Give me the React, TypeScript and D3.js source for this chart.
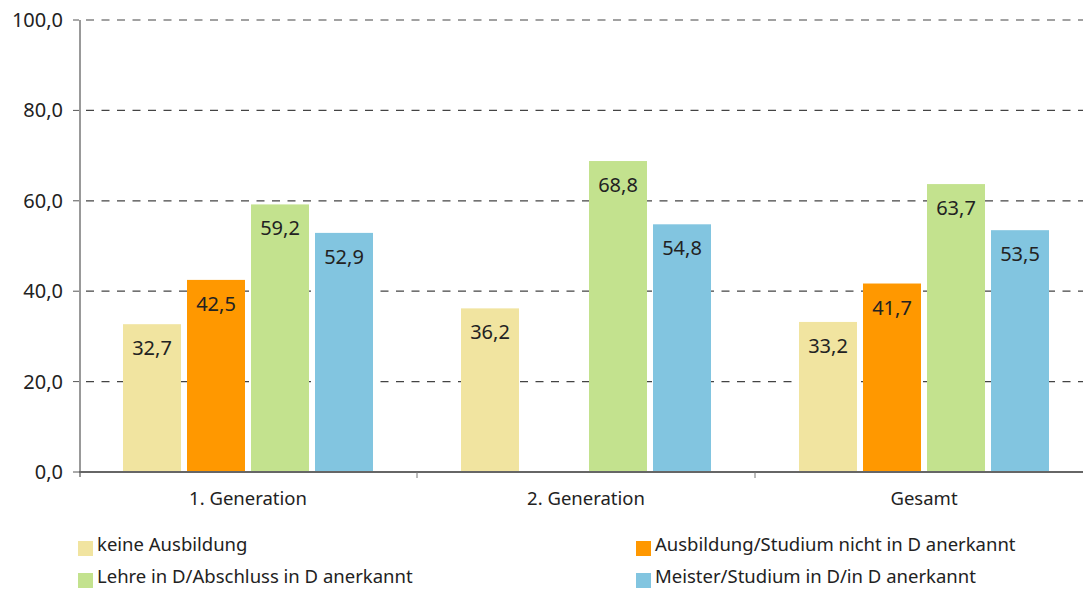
import * as d3 from 'd3';

const categories = ['1. Generation', '2. Generation', 'Gesamt'];
const seriesNames = [
  'keine Ausbildung',
  'Ausbildung/Studium nicht in D anerkannt',
  'Lehre in D/Abschluss in D anerkannt',
  'Meister/Studium in D/in D anerkannt',
];
const seriesColors = ['#F1E4A0', '#FF9800', '#C3E28E', '#82C5E0'];
const keineAusbildung = [32.7, 36.2, 33.2];
const nichtAnerkannt: (number | null)[] = [42.5, null, 41.7];
const lehre = [59.2, 68.8, 63.7];
const meister = [52.9, 54.8, 53.5];
const yTicks = [0, 20, 40, 60, 80, 100];

const values = [keineAusbildung, nichtAnerkannt, lehre, meister];

const W = 1083;
const H = 589;
const left = 79;
const groupW = 338;
const font = '"Noto Sans", sans-serif';

const fmt = (v: number) => v.toFixed(1).replace('.', ',');

export default function App() {
  const x0 = d3.scaleBand<string>()
    .domain(categories)
    .range([left, left + groupW * categories.length])
    .padding(0);
  const x1 = d3.scaleBand<number>()
    .domain(d3.range(seriesNames.length))
    .range([0, groupW])
    .paddingInner(0.094)
    .paddingOuter(0.6875);
  const y = d3.scaleLinear().domain([0, 100]).range([472, 20]);

  const legendPos = [
    { x: 78, y: 541 },
    { x: 636, y: 541 },
    { x: 78, y: 573 },
    { x: 636, y: 573 },
  ];

  return (
    <svg
      width={W}
      height={H}
      style={{ position: 'absolute', left: 0, top: 0, background: '#fff' }}
      fontFamily={font}
    >
      {/* grid */}
      {yTicks.filter(t => t > 0).map(t => (
        <line key={t} x1={left + 7} x2={W} y1={y(t)} y2={y(t)}
          stroke="#444" strokeWidth={1.2} strokeDasharray="8,7.5" />
      ))}
      {yTicks.map(t => (
        <g key={'t' + t}>
          <line x1={left - 6} x2={left} y1={y(t)} y2={y(t)} stroke="#555" strokeWidth={1} />
          <text x={63} y={y(t) + 7} textAnchor="end" fontSize={20} fill="#222">{fmt(t)}</text>
        </g>
      ))}

      {/* bars */}
      {categories.map((c, ci) => (
        <g key={c} transform={`translate(${x0(c)},0)`}>
          {values.map((vals, si) => {
            const v = vals[ci];
            if (v == null) return null;
            const bx = x1(si)!;
            const bw = x1.bandwidth();
            return (
              <g key={si}>
                <rect x={bx} y={y(v)} width={bw} height={y(0) - y(v)} fill={seriesColors[si]} />
                <text x={bx + bw / 2} y={y(v) + 31} textAnchor="middle" fontSize={20} fill="#222">
                  {fmt(v)}
                </text>
              </g>
            );
          })}
        </g>
      ))}

      {/* axes */}
      <line x1={left + 1} x2={left + 1} y1={y(100)} y2={y(0) + 5} stroke="#777" strokeWidth={1.5} />
      <line x1={left} x2={W} y1={y(0)} y2={y(0)} stroke="#666" strokeWidth={2} />
      {categories.slice(1).map(c => (
        <line key={'s' + c} x1={x0(c)!} x2={x0(c)!} y1={y(0)} y2={y(0) + 6} stroke="#777" strokeWidth={1} />
      ))}
      {categories.map(c => (
        <text key={'l' + c} x={x0(c)! + groupW / 2} y={505} textAnchor="middle" fontSize={18.5} fill="#222">
          {c}
        </text>
      ))}

      {/* legend */}
      {seriesNames.map((name, i) => (
        <g key={name} transform={`translate(${legendPos[i].x},${legendPos[i].y})`}>
          <rect x={0} y={0} width={15} height={15} fill={seriesColors[i]} />
          <text x={19} y={10} fontSize={18.5} fill="#222">{name}</text>
        </g>
      ))}
    </svg>
  );
}
